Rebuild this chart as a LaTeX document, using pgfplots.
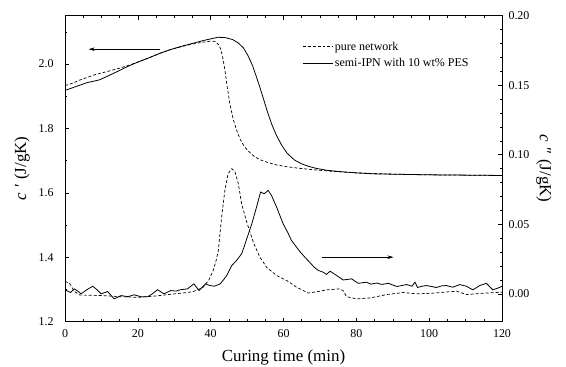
\documentclass[border=0pt]{standalone}
\usepackage{pgfplots}
\pgfplotsset{compat=1.18}
\usepackage{fontspec}
\setmainfont{Liberation Serif}
\usetikzlibrary{arrows.meta}
\begin{document}
\begin{tikzpicture}
\pgfplotsset{
  every axis/.append style={
    width=437bp, height=306bp, scale only axis,
    xmin=0, xmax=120,
    tick align=inside,
    major tick length=4bp, minor tick length=2.5bp,
    /pgf/number format/assume math mode=true,
    tick label style={font=\fontsize{12}{14}\selectfont},
    label style={font=\fontsize{17}{19}\selectfont},
    axis line style={line width=0.7pt},
    every tick/.style={line width=0.6pt, black},
    every minor tick/.style={line width=0.5pt, black},
  },
  dsh/.style={black, line width=0.7pt, dash pattern=on 3pt off 2pt},
  sld/.style={black, line width=0.8pt},
}
\begin{axis}[
  ymin=1.2, ymax=2.15,
  xtick={0,20,40,60,80,100,120}, minor x tick num=3,
  ytick={1.2,1.4,1.6,1.8,2.0}, minor ytick={1.3,1.5,1.7,1.9,2.1},
  xtick pos=both, ytick pos=left,
  yticklabel style={/pgf/number format/fixed, /pgf/number format/fixed zerofill, /pgf/number format/precision=1, xshift=-8bp},
  xticklabel style={yshift=-4bp},
  xlabel={Curing time (min)},
  xlabel style={yshift=-6bp},
  ylabel={\textit{c}\,\,′ (J/gK)},
  ylabel style={yshift=2bp},
  legend style={at={(0.54,0.925)}, anchor=north west, draw=none, fill=none,
    font=\fontsize{12}{14}\selectfont, row sep=3bp, inner sep=1bp},
  legend cell align=left,
  legend image code/.code={\draw[#1] (0bp,0bp) -- (30bp,0bp);},
]
\addplot[dsh] coordinates {
(0,1.933) (2,1.940) (4,1.950) (6,1.958) (8,1.966) (10,1.972) (12,1.978) (15,1.987)
(18,1.998) (20,2.006) (23,2.019) (26,2.033) (29,2.045) (32,2.054) (35,2.062) (38,2.068)
(40,2.071) (41.3,2.070) (42.2,2.060) (42.8,2.045) (43.4,2.015) (44,1.975) (44.6,1.925)
(45.3,1.875) (46.2,1.828) (47.2,1.792) (48.2,1.764) (49.2,1.745) (50.3,1.730) (52,1.713)
(53.5,1.703) (56,1.693) (58,1.687) (61,1.681) (64.5,1.676) (68,1.672) (72,1.668)
(76,1.665) (80,1.662) (90,1.658) (100,1.656) (110,1.655) (120,1.654)
};
\addlegendentry{pure network}
\addplot[sld] coordinates {
(0,1.918) (3,1.930) (6,1.942) (8,1.947) (9.5,1.951) (12,1.964) (15,1.980) (17.5,1.994)
(20,2.006) (23,2.019) (26,2.033) (29,2.045) (32,2.055) (35,2.064) (38,2.073) (40,2.078)
(42,2.083) (44,2.082) (46,2.076) (47.5,2.066) (49,2.050) (50.3,2.025) (51.5,1.995)
(52.5,1.962) (53.5,1.928) (54.5,1.892) (55.5,1.855) (56.7,1.815) (58,1.780) (59.5,1.748)
(61,1.723) (63,1.702) (65,1.690) (67,1.682) (69,1.676) (72,1.670) (75.5,1.666) (80,1.662)
(85,1.659) (90,1.658) (100,1.656) (110,1.655) (120,1.654)
};
\addlegendentry{semi-IPN with 10 wt\% PES}
\draw[-{Stealth[length=6bp,width=3.5bp]}, line width=0.6pt] (axis cs:26.2,2.046) -- (axis cs:6.5,2.046);
\end{axis}
\begin{axis}[
  ymin=-0.02, ymax=0.20,
  axis x line=none, axis y line*=right,
  ytick={0,0.05,0.10,0.15,0.20}, minor y tick num=4,
  yticklabel style={/pgf/number format/fixed, /pgf/number format/fixed zerofill, /pgf/number format/precision=2, xshift=3bp},
  ylabel={\textit{c}\,\,″ (J/gK)},
  ylabel style={rotate=180},
]
\addplot[dsh] coordinates {
(0,0.009) (1.2,0.0078) (2.5,0.002) (4,-0.0008) (7,-0.001) (10,-0.0012) (15,-0.002)
(20,-0.0025) (25,-0.0015) (30,0.000) (33,0.0008) (35,0.0015) (36.5,0.003) (38,0.005)
(39.5,0.010) (40.7,0.0168) (41.5,0.024) (42.1,0.031) (43,0.055) (43.9,0.0744) (44.8,0.0864)
(45.8,0.090) (46.7,0.0876) (47.6,0.0792) (48.5,0.0648) (49.9,0.0516) (51.7,0.0372)
(53.5,0.0264) (55.4,0.019) (58.1,0.0132) (60.9,0.0096) (63.6,0.0048) (66.8,0.0006)
(69,0.0015) (71.9,0.0029) (75.5,0.0036) (76.5,0.002) (77.3,-0.002) (80.1,-0.0036)
(83.8,-0.0029) (88.3,-0.0005) (92.9,0.001) (96.5,0.000) (101,0.0005) (104,0.0012)
(107.6,0.0019) (110.3,-0.0005) (114.9,0.0005) (118.5,0.001) (120,0.0012)
};
\addplot[sld] coordinates {
(0,0.003) (1.5,0.001) (2.6,0.0036) (3.5,0.002) (4.4,0.000) (6,0.003) (7.6,0.0055)
(8.8,0.003) (9.9,0.000) (11.7,0.0017) (13.5,-0.0036) (15.4,-0.0012) (17.2,-0.002)
(19.0,-0.0007) (20.8,-0.002) (22.7,-0.002) (24,0.000) (25.4,0.003) (27.2,0.000)
(29.0,0.0024) (30.5,0.002) (31.7,0.003) (33.6,0.0036) (35.4,0.0072) (36.8,0.0024)
(38.6,0.0072) (39.8,0.006) (41,0.0055) (42.6,0.0072) (43.5,0.010) (44.4,0.0132)
(45.8,0.0204) (47.1,0.024) (48.5,0.0288) (49.2,0.034) (49.9,0.0396) (51.3,0.0504)
(52.6,0.0624) (53.7,0.0732) (54.7,0.072) (55.8,0.0744) (56.7,0.0708) (58.1,0.0624)
(59.9,0.0504) (61,0.045) (62.2,0.0384) (64.5,0.0304) (66,0.026) (67.3,0.0224)
(68.5,0.019) (69.6,0.0168) (70.9,0.0156) (71.8,0.014) (72.8,0.0163) (74.6,0.0132)
(76.4,0.010) (78.7,0.0108) (80.5,0.0076) (82.8,0.0084) (84,0.007) (85.6,0.0078)
(87,0.0068) (88.8,0.0076) (91.1,0.0053) (93.8,0.0067) (95.3,0.0055) (96.1,0.0084)
(96.8,0.0046) (98,0.0055) (99.3,0.006) (102,0.0046) (103.5,0.0058) (104.7,0.006)
(106.5,0.0048) (108.4,0.0067) (110.2,0.0055) (112,0.0029) (113.9,0.006) (115.7,0.0076)
(117.5,0.0029) (119.3,0.0046) (120,0.0055)
};
\draw[-{Stealth[length=6bp,width=3.5bp]}, line width=0.6pt] (axis cs:70.5,0.0264) -- (axis cs:90.2,0.0264);
\end{axis}
\pgfresetboundingbox
\useasboundingbox (-65bp,-45.3bp) rectangle (501bp,321.7bp);
\end{tikzpicture}
\end{document}
